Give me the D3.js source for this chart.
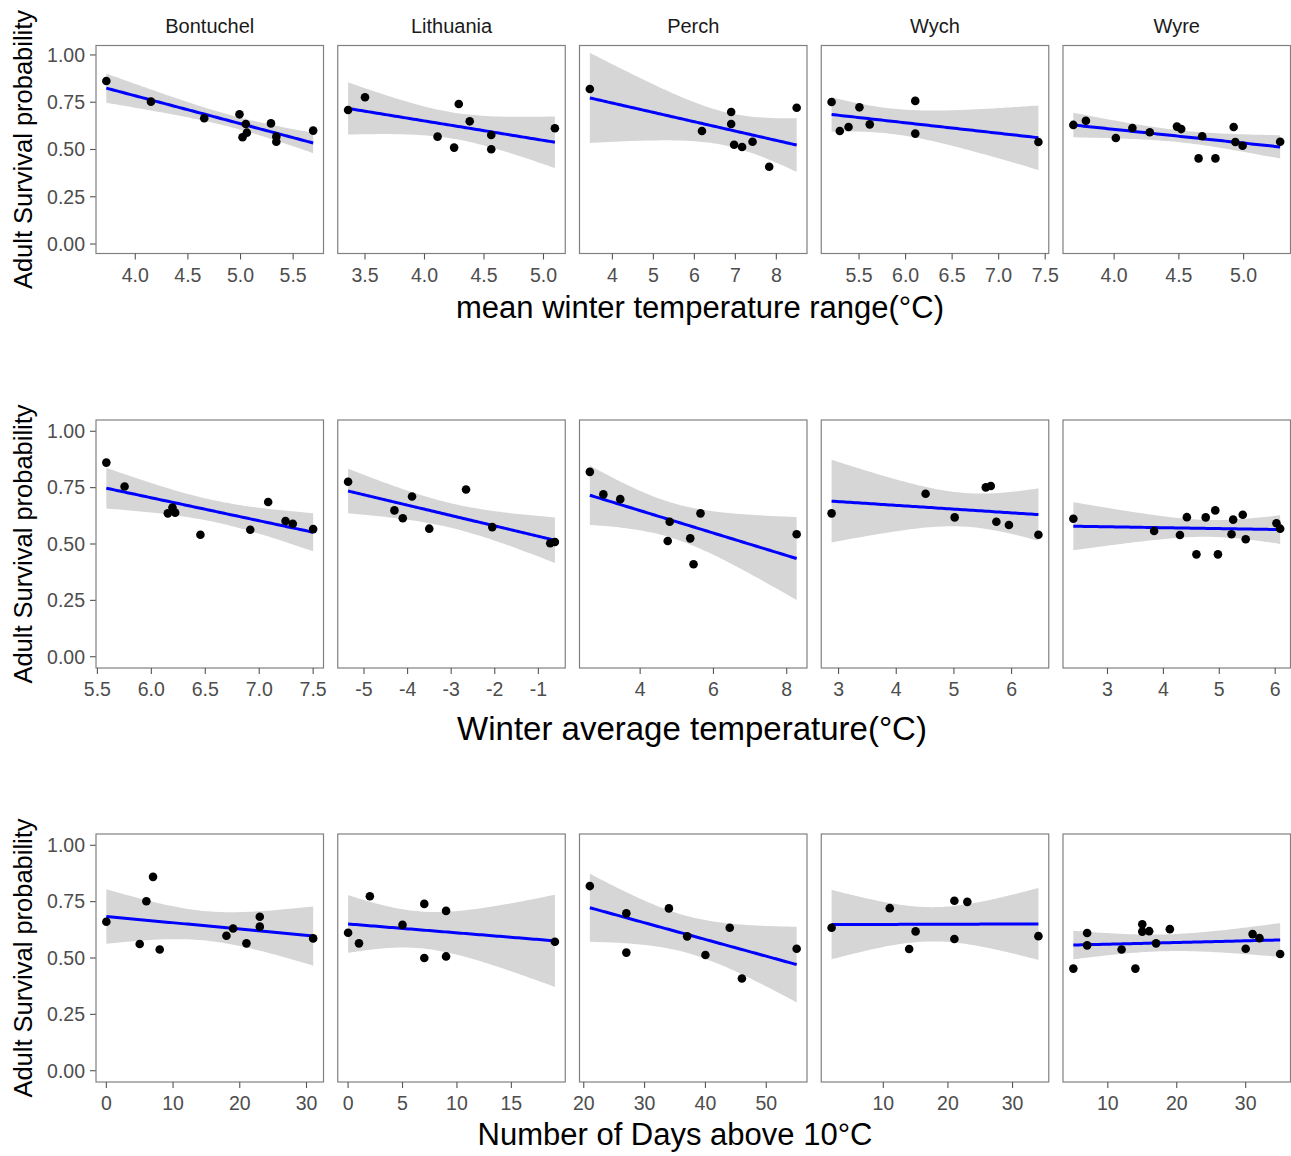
<!DOCTYPE html>
<html>
<head>
<meta charset="utf-8">
<script src="https://cdn.jsdelivr.net/npm/d3@7"></script>
<style>
  body { margin: 0; background: #fff; }
  svg { display: block; font-family: "Liberation Sans", Arial, sans-serif; }
</style>
</head>
<body>
<svg id="chart" width="1291" height="1156"></svg>
<script>
var sites = ["Bontuchel", "Lithuania", "Perch", "Wych", "Wyre"];
var yTickLabels = ["0.00", "0.25", "0.50", "0.75", "1.00"];
var yTitle = "Adult Survival probability";
var xTitles = ["mean winter temperature range(\u00B0C)", "Winter average temperature(\u00B0C)", "Number of Days above 10\u00B0C"];

// row 1: mean winter temperature range
var rangeX = [
  [3.725, 4.149, 4.655, 4.99, 5.019, 5.05, 5.06, 5.289, 5.34, 5.34, 5.69],
  [3.358, 3.5, 4.11, 4.249, 4.288, 4.38, 4.561, 4.561, 5.096],
  [3.45, 6.186, 6.898, 6.898, 6.97, 7.164, 7.42, 7.826, 8.496],
  [5.205, 5.293, 5.387, 5.504, 5.615, 6.104, 6.104, 7.427],
  [3.685, 3.782, 4.013, 4.141, 4.275, 4.485, 4.518, 4.652, 4.68, 4.782, 4.923, 4.936, 4.992, 5.282]
];
var rangeY = [
  [0.862, 0.753, 0.665, 0.686, 0.565, 0.635, 0.589, 0.638, 0.568, 0.541, 0.600],
  [0.709, 0.776, 0.568, 0.510, 0.741, 0.649, 0.577, 0.501, 0.612],
  [0.820, 0.598, 0.698, 0.635, 0.525, 0.513, 0.541, 0.409, 0.721],
  [0.751, 0.598, 0.619, 0.723, 0.633, 0.757, 0.584, 0.540],
  [0.630, 0.652, 0.561, 0.614, 0.591, 0.621, 0.608, 0.453, 0.570, 0.453, 0.619, 0.540, 0.520, 0.541]
];
var rangeTicks = [["4.0", "4.5", "5.0", "5.5"], ["3.5", "4.0", "4.5", "5.0"], ["4", "5", "6", "7", "8"],
  ["5.5", "6.0", "6.5", "7.0", "7.5"], ["4.0", "4.5", "5.0"]];

// row 2: winter average temperature
var avgX = [
  [5.583, 5.752, 6.153, 6.196, 6.221, 6.455, 6.917, 7.083, 7.244, 7.311, 7.5],
  [-5.365, -4.302, -4.11, -3.898, -3.503, -2.659, -2.057, -0.727, -0.62],
  [2.627, 2.996, 3.457, 4.752, 4.806, 5.367, 5.457, 5.647, 8.271],
  [2.879, 4.509, 5.013, 5.553, 5.639, 5.736, 5.954, 6.465],
  [2.389, 3.834, 4.296, 4.42, 4.591, 4.757, 4.928, 4.976, 5.219, 5.248, 5.42, 5.473, 6.023, 6.089]
];
var avgY = [
  [0.861, 0.755, 0.636, 0.662, 0.639, 0.541, 0.563, 0.686, 0.602, 0.590, 0.566],
  [0.776, 0.649, 0.614, 0.711, 0.568, 0.742, 0.575, 0.503, 0.509],
  [0.820, 0.720, 0.699, 0.513, 0.599, 0.525, 0.410, 0.636, 0.543],
  [0.636, 0.723, 0.618, 0.751, 0.757, 0.599, 0.584, 0.541],
  [0.612, 0.558, 0.540, 0.619, 0.454, 0.618, 0.649, 0.454, 0.543, 0.608, 0.630, 0.521, 0.592, 0.568]
];
var avgTicks = [["5.5", "6.0", "6.5", "7.0", "7.5"], ["-5", "-4", "-3", "-2", "-1"], ["4", "6", "8"],
  ["3", "4", "5", "6"], ["3", "4", "5", "6"]];

// row 3: number of days above 10C
var daysX = [
  [0, 5, 6, 7, 8, 18, 19, 21, 23, 23, 31],
  [0, 1, 2, 5, 7, 7, 9, 9, 19],
  [21, 27, 27, 34, 37, 40, 44, 46, 55],
  [2, 11, 14, 15, 21, 21, 23, 34],
  [5, 7, 7, 12, 14, 15, 15, 16, 17, 19, 30, 31, 32, 35]
];
var daysY = [
  [0.661, 0.562, 0.752, 0.860, 0.538, 0.599, 0.631, 0.565, 0.683, 0.639, 0.587],
  [0.612, 0.565, 0.774, 0.647, 0.740, 0.500, 0.709, 0.507, 0.572],
  [0.819, 0.698, 0.524, 0.720, 0.596, 0.513, 0.634, 0.409, 0.541],
  [0.634, 0.721, 0.540, 0.618, 0.754, 0.584, 0.749, 0.597],
  [0.453, 0.611, 0.556, 0.538, 0.453, 0.650, 0.617, 0.619, 0.565, 0.628, 0.541, 0.606, 0.588, 0.518]
];
var daysTicks = [["0", "10", "20", "30"], ["0", "5", "10", "15"], ["20", "30", "40", "50"],
  ["10", "20", "30"], ["10", "20", "30"]];

// 97.5% t quantiles by residual df, for the 95% band of geom_smooth(method = "lm")
var tQuant = {6: 2.447, 7: 2.365, 9: 2.262, 12: 2.179};

var svg = d3.select("#chart");
var panelLeft = 96, panelW = 227.5, panelStep = 241.75;

var rows = [
  {xs: rangeX, ys: rangeY, ticks: rangeTicks, top: 45.5, bottom: 253.5, titleY: 318, titleX: 700, titleSize: 31},
  {xs: avgX, ys: avgY, ticks: avgTicks, top: 420, bottom: 668, titleY: 740, titleX: 692, titleSize: 33},
  {xs: daysX, ys: daysY, ticks: daysTicks, top: 834, bottom: 1082, titleY: 1145, titleX: 675, titleSize: 31}
];

function fitLm(xs, ys) {
  var n = xs.length, mx = d3.mean(xs), my = d3.mean(ys);
  var sxx = d3.sum(xs, function(x) { return (x - mx) * (x - mx); });
  var sxy = d3.sum(xs, function(x, i) { return (x - mx) * (ys[i] - my); });
  var b = sxy / sxx, a = my - b * mx;
  var sse = d3.sum(xs, function(x, i) { var r = ys[i] - (a + b * x); return r * r; });
  var s = Math.sqrt(sse / (n - 2)), t = tQuant[n - 2];
  var ext = d3.extent(xs);
  return d3.range(80).map(function(k) {
    var x = ext[0] + (ext[1] - ext[0]) * k / 79;
    var fit = a + b * x;
    var se = s * Math.sqrt(1 / n + (x - mx) * (x - mx) / sxx);
    return {x: x, y: fit, lo: fit - t * se, hi: fit + t * se};
  });
}

rows.forEach(function(row, r) {
  var y = d3.scaleLinear().domain([-0.05, 1.05]).range([row.bottom, row.top]);

  // y axis on the first panel only
  var yAxis = svg.append("g").attr("transform", "translate(" + panelLeft + ",0)");
  yTickLabels.forEach(function(lab) {
    yAxis.append("line").attr("x1", -6).attr("x2", 0)
      .attr("y1", y(+lab)).attr("y2", y(+lab))
      .attr("stroke", "#555").attr("stroke-width", 1.1);
    yAxis.append("text").attr("x", -11).attr("y", y(+lab)).attr("dy", "0.35em")
      .attr("text-anchor", "end").attr("font-size", 19.5).attr("fill", "#4d4d4d").text(lab);
  });
  svg.append("text")
    .attr("transform", "translate(31.5," + ((row.top + row.bottom) / 2) + ") rotate(-90)")
    .attr("text-anchor", "middle").attr("font-size", 25.5).attr("fill", "#000").text(yTitle);

  sites.forEach(function(site, i) {
    var x0 = panelLeft + i * panelStep;
    var xs = row.xs[i], ys = row.ys[i];
    var ext = d3.extent(xs), pad = (ext[1] - ext[0]) * 0.05;
    var x = d3.scaleLinear().domain([ext[0] - pad, ext[1] + pad]).range([x0, x0 + panelW]);
    var g = svg.append("g");

    var pred = fitLm(xs, ys);
    g.append("path").datum(pred)
      .attr("d", d3.area().x(function(d) { return x(d.x); })
        .y0(function(d) { return y(d.lo); }).y1(function(d) { return y(d.hi); }))
      .attr("fill", "#d6d6d6");
    g.append("path").datum(pred)
      .attr("d", d3.line().x(function(d) { return x(d.x); }).y(function(d) { return y(d.y); }))
      .attr("fill", "none").attr("stroke", "#0000ff").attr("stroke-width", 3);

    g.selectAll("circle").data(xs).enter().append("circle")
      .attr("cx", function(d) { return x(d); })
      .attr("cy", function(d, k) { return y(ys[k]); })
      .attr("r", 4.3).attr("fill", "#000");

    g.append("rect").attr("x", x0).attr("y", row.top).attr("width", panelW).attr("height", row.bottom - row.top)
      .attr("fill", "none").attr("stroke", "#808080").attr("stroke-width", 1.2);

    row.ticks[i].forEach(function(lab) {
      g.append("line").attr("x1", x(+lab)).attr("x2", x(+lab))
        .attr("y1", row.bottom).attr("y2", row.bottom + 6)
        .attr("stroke", "#555").attr("stroke-width", 1.1);
      g.append("text").attr("x", x(+lab)).attr("y", row.bottom + 28)
        .attr("text-anchor", "middle").attr("font-size", 19.5).attr("fill", "#4d4d4d").text(lab);
    });

    if (r === 0) {
      g.append("text").attr("x", x0 + panelW / 2).attr("y", 33)
        .attr("text-anchor", "middle").attr("font-size", 20).attr("fill", "#1a1a1a").text(site);
    }
  });

  svg.append("text").attr("x", row.titleX).attr("y", row.titleY)
    .attr("text-anchor", "middle").attr("font-size", row.titleSize).attr("fill", "#000").text(xTitles[r]);
});
</script>
</body>
</html>
